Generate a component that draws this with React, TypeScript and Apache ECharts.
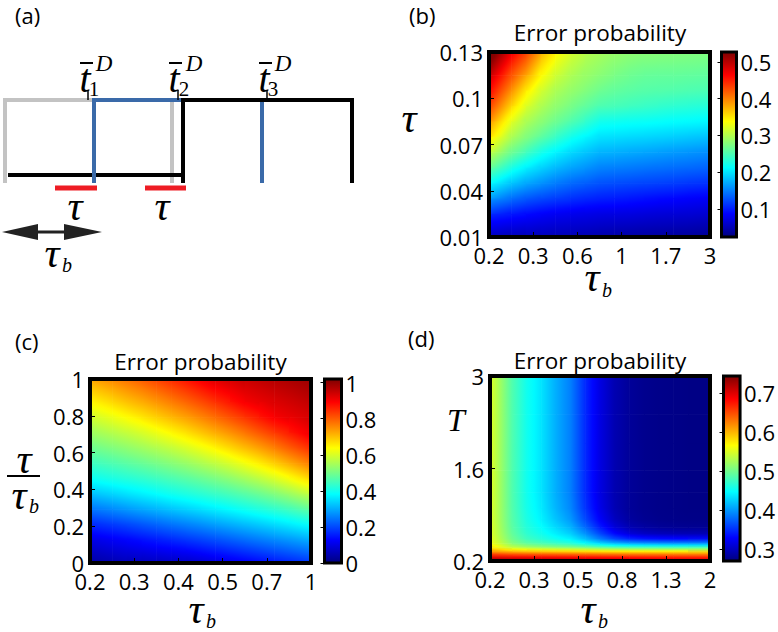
import React, { useEffect, useRef } from "react";
import * as echarts from "echarts";

const JET = ["#00007F", "#0000FF", "#007FFF", "#00FFFF", "#7FFF7F", "#FFFF00", "#FF7F00", "#FF0000", "#7F0000"];
const FONT = "Open Sans";
const SERIF = "Liberation Serif";
const TITLE = "Error probability";

// ---------- Panel (b): tau vs tau_b ----------
const bXTicks = ["0.2", "0.3", "0.6", "1", "1.7", "3"];
const bYTicks = ["0.01", "0.04", "0.07", "0.1", "0.13"];
const bColorTicks = [0.1, 0.2, 0.3, 0.4, 0.5];
const bRange = [0.024, 0.527];
// rows from top (tau = 0.13) to bottom (tau = 0.01), columns from tau_b = 0.2 to 3
const bValues = [
  [0.51, 0.455, 0.42, 0.368, 0.333, 0.313, 0.298, 0.29, 0.283, 0.278, 0.275, 0.274, 0.273, 0.272, 0.271],
  [0.47, 0.425, 0.385, 0.34, 0.315, 0.298, 0.288, 0.281, 0.273, 0.267, 0.263, 0.262, 0.262, 0.261, 0.26],
  [0.44, 0.395, 0.348, 0.318, 0.297, 0.287, 0.278, 0.267, 0.261, 0.258, 0.255, 0.254, 0.253, 0.251, 0.25],
  [0.41, 0.36, 0.322, 0.299, 0.285, 0.273, 0.261, 0.251, 0.248, 0.244, 0.241, 0.238, 0.235, 0.233, 0.231],
  [0.37, 0.325, 0.297, 0.283, 0.267, 0.254, 0.239, 0.222, 0.22, 0.218, 0.217, 0.215, 0.213, 0.212, 0.21],
  [0.335, 0.298, 0.278, 0.26, 0.242, 0.223, 0.21, 0.199, 0.197, 0.195, 0.193, 0.191, 0.189, 0.186, 0.184],
  [0.295, 0.268, 0.247, 0.224, 0.208, 0.195, 0.185, 0.176, 0.174, 0.171, 0.169, 0.166, 0.163, 0.161, 0.158],
  [0.253, 0.227, 0.206, 0.192, 0.179, 0.169, 0.161, 0.152, 0.15, 0.148, 0.145, 0.143, 0.141, 0.139, 0.137],
  [0.204, 0.185, 0.171, 0.16, 0.149, 0.14, 0.134, 0.128, 0.125, 0.123, 0.121, 0.119, 0.117, 0.114, 0.112],
  [0.157, 0.142, 0.13, 0.123, 0.117, 0.111, 0.106, 0.102, 0.1, 0.097, 0.094, 0.091, 0.089, 0.086, 0.084],
  [0.105, 0.098, 0.092, 0.086, 0.081, 0.079, 0.076, 0.074, 0.073, 0.072, 0.07, 0.068, 0.067, 0.066, 0.064],
  [0.069, 0.067, 0.065, 0.063, 0.061, 0.059, 0.058, 0.055, 0.053, 0.052, 0.05, 0.049, 0.048, 0.047, 0.045],
];

// ---------- Panel (c): tau/tau_b vs tau_b ----------
const cXTicks = ["0.2", "0.3", "0.4", "0.5", "0.7", "1"];
const cYTicks = ["0", "0.2", "0.4", "0.6", "0.8", "1"];
const cColorTicks = [0, 0.2, 0.4, 0.6, 0.8, 1];
const cRange = [0, 1.02];
const cValues = [
  [0.71, 0.729, 0.751, 0.773, 0.797, 0.822, 0.847, 0.874, 0.901, 0.916, 0.929, 0.942, 0.953, 0.964, 0.975],
  [0.654, 0.675, 0.699, 0.719, 0.742, 0.766, 0.791, 0.817, 0.844, 0.872, 0.901, 0.914, 0.927, 0.938, 0.95],
  [0.598, 0.617, 0.638, 0.66, 0.684, 0.708, 0.731, 0.757, 0.784, 0.812, 0.84, 0.87, 0.9, 0.913, 0.925],
  [0.547, 0.563, 0.579, 0.597, 0.619, 0.642, 0.666, 0.693, 0.719, 0.745, 0.775, 0.806, 0.835, 0.866, 0.898],
  [0.498, 0.511, 0.526, 0.542, 0.559, 0.577, 0.598, 0.621, 0.647, 0.675, 0.704, 0.732, 0.764, 0.799, 0.83],
  [0.448, 0.46, 0.473, 0.486, 0.501, 0.517, 0.534, 0.554, 0.575, 0.598, 0.625, 0.654, 0.685, 0.718, 0.752],
  [0.397, 0.408, 0.419, 0.43, 0.443, 0.457, 0.471, 0.487, 0.504, 0.524, 0.546, 0.57, 0.598, 0.629, 0.662],
  [0.327, 0.34, 0.354, 0.368, 0.382, 0.397, 0.41, 0.423, 0.438, 0.453, 0.47, 0.489, 0.511, 0.536, 0.565],
  [0.25, 0.265, 0.28, 0.294, 0.308, 0.323, 0.336, 0.351, 0.366, 0.381, 0.397, 0.413, 0.429, 0.448, 0.469],
  [0.173, 0.184, 0.197, 0.212, 0.227, 0.242, 0.256, 0.269, 0.286, 0.3, 0.315, 0.33, 0.346, 0.362, 0.379],
  [0.106, 0.117, 0.128, 0.14, 0.152, 0.165, 0.178, 0.191, 0.205, 0.22, 0.235, 0.25, 0.264, 0.278, 0.293],
  [0.061, 0.072, 0.08, 0.086, 0.093, 0.098, 0.105, 0.117, 0.13, 0.143, 0.156, 0.17, 0.185, 0.199, 0.213],
];

// ---------- Panel (d): T vs tau_b ----------
const dXTicks = ["0.2", "0.3", "0.5", "0.8", "1.3", "2"];
const dYTicks = ["0.2", "1.6", "3"];
const dColorTicks = [0.3, 0.4, 0.5, 0.6, 0.7];
const dRange = [0.27, 0.743];
// sampled T bands (row edges), from top to bottom
const dRowEdgesT = [3.0, 2.64, 2.2, 1.76, 1.39, 1.09, 0.9, 0.76, 0.66, 0.57, 0.5, 0.44, 0.38, 0.32, 0.26, 0.2];
const dValues = [
  [0.53, 0.485, 0.455, 0.435, 0.41, 0.388, 0.348, 0.316, 0.293, 0.282, 0.277, 0.275, 0.274, 0.273, 0.273],
  [0.53, 0.485, 0.455, 0.435, 0.41, 0.388, 0.348, 0.316, 0.293, 0.282, 0.277, 0.275, 0.274, 0.273, 0.273],
  [0.53, 0.485, 0.455, 0.435, 0.41, 0.388, 0.348, 0.316, 0.293, 0.282, 0.277, 0.275, 0.274, 0.273, 0.273],
  [0.53, 0.485, 0.455, 0.435, 0.41, 0.388, 0.348, 0.316, 0.293, 0.282, 0.277, 0.275, 0.274, 0.273, 0.273],
  [0.53, 0.485, 0.455, 0.435, 0.41, 0.388, 0.348, 0.316, 0.293, 0.282, 0.277, 0.275, 0.274, 0.273, 0.273],
  [0.53, 0.486, 0.457, 0.438, 0.413, 0.392, 0.353, 0.319, 0.294, 0.282, 0.277, 0.275, 0.274, 0.273, 0.273],
  [0.53, 0.488, 0.46, 0.442, 0.42, 0.4, 0.363, 0.327, 0.3, 0.285, 0.279, 0.276, 0.275, 0.274, 0.274],
  [0.532, 0.49, 0.464, 0.448, 0.43, 0.412, 0.378, 0.342, 0.312, 0.294, 0.286, 0.282, 0.28, 0.279, 0.279],
  [0.534, 0.494, 0.469, 0.455, 0.44, 0.425, 0.397, 0.362, 0.332, 0.312, 0.302, 0.298, 0.296, 0.295, 0.295],
  [0.537, 0.5, 0.477, 0.465, 0.453, 0.442, 0.417, 0.387, 0.362, 0.347, 0.339, 0.335, 0.333, 0.332, 0.332],
  [0.545, 0.51, 0.492, 0.482, 0.473, 0.465, 0.447, 0.427, 0.412, 0.402, 0.397, 0.394, 0.392, 0.392, 0.392],
  [0.562, 0.535, 0.523, 0.515, 0.509, 0.504, 0.497, 0.487, 0.48, 0.476, 0.474, 0.473, 0.472, 0.472, 0.472],
  [0.603, 0.592, 0.587, 0.584, 0.581, 0.579, 0.576, 0.573, 0.571, 0.569, 0.568, 0.567, 0.566, 0.566, 0.566],
  [0.662, 0.657, 0.654, 0.652, 0.65, 0.648, 0.646, 0.644, 0.642, 0.641, 0.64, 0.639, 0.638, 0.637, 0.637],
  [0.715, 0.712, 0.71, 0.708, 0.706, 0.704, 0.702, 0.7, 0.698, 0.696, 0.694, 0.692, 0.691, 0.69, 0.689],
];

// ---------- colour map (MATLAB jet) ----------
const JET_RGB = JET.map((h) => [1, 3, 5].map((k) => parseInt(h.slice(k, k + 2), 16)));
function jet(t: number) {
  const n = JET_RGB.length - 1;
  const tt = Math.max(0, Math.min(1, t)) * n;
  const k = Math.min(n - 1, Math.floor(tt));
  const f = tt - k;
  const a = JET_RGB[k];
  const b = JET_RGB[k + 1];
  const c = a.map((v, i) => Math.round(v + (b[i] - v) * f));
  return `rgb(${c[0]},${c[1]},${c[2]})`;
}

function uniformEdges(n: number, yMax: number) {
  return Array.from({ length: n + 1 }, (_, j) => yMax - (j * yMax) / n);
}

// Each sample sits at the centre of its grid cell; the shaded patches join
// neighbouring samples (MATLAB "shading interp" style rendering).
function patches(values: number[][], xMax: number, rowEdges: number[]) {
  const nR = values.length;
  const nC = values[0].length;
  const xc = (i: number) => ((i + 0.5) * xMax) / nC;
  const yc = (j: number) => (rowEdges[j] + rowEdges[j + 1]) / 2;
  const out: number[][] = [];
  for (let j = 0; j < nR - 1; j++) {
    for (let i = 0; i < nC - 1; i++) {
      const x0 = i === 0 ? 0 : xc(i);
      const x1 = i === nC - 2 ? xMax : xc(i + 1);
      const yTop = j === 0 ? rowEdges[0] : yc(j);
      const yBot = j === nR - 2 ? rowEdges[nR] : yc(j + 1);
      out.push([
        x0, yBot, x1, yTop,
        xc(i), yc(j + 1), xc(i + 1), yc(j),
        values[j + 1][i], values[j + 1][i + 1], values[j][i], values[j][i + 1],
      ]);
    }
  }
  return out;
}

const dY0 = Number(dYTicks[0]);
const dStep = Number(dYTicks[1]) - dY0;

const panels = [
  {
    grid: { left: 489, top: 52, width: 221, height: 185 },
    cbar: { left: 721.5, top: 52, width: 15, height: 185 },
    xTicks: bXTicks, yTicks: bYTicks, range: bRange, cTicks: bColorTicks,
    data: patches(bValues, bXTicks.length - 1, uniformEdges(bValues.length, bYTicks.length - 1)),
  },
  {
    grid: { left: 90, top: 379, width: 221, height: 184 },
    cbar: { left: 324.5, top: 379, width: 17, height: 184 },
    xTicks: cXTicks, yTicks: cYTicks, range: cRange, cTicks: cColorTicks,
    data: patches(cValues, cXTicks.length - 1, uniformEdges(cValues.length, cYTicks.length - 1)),
  },
  {
    grid: { left: 490, top: 376, width: 220, height: 185 },
    cbar: { left: 723.5, top: 376, width: 17, height: 185 },
    xTicks: dXTicks, yTicks: dYTicks, range: dRange, cTicks: dColorTicks,
    data: patches(dValues, dXTicks.length - 1, dRowEdgesT.map((t) => (t - dY0) / dStep)),
  },
];

function txt(text: string, x: number, y: number, o: any = {}) {
  return {
    type: "text",
    x,
    y,
    z: 100,
    style: {
      text,
      fill: o.fill || "#000",
      fontFamily: o.family || FONT,
      fontSize: o.size || 22,
      fontStyle: o.italic ? "italic" : "normal",
      align: o.align || "center",
      verticalAlign: "middle",
    },
  };
}

function seg(x1: number, y1: number, x2: number, y2: number, stroke: string, lineWidth: number) {
  return { type: "line", z: 50, shape: { x1, y1, x2, y2 }, style: { stroke, lineWidth } };
}

function poly(points: number[][], stroke: string, lineWidth: number) {
  return { type: "polyline", z: 50, shape: { points }, style: { stroke, lineWidth, fill: null, lineJoin: "miter" } };
}

function buildOption() {
  const grid: any[] = [];
  const xAxis: any[] = [];
  const yAxis: any[] = [];
  const series: any[] = [];

  panels.forEach((p) => {
    const gi = grid.length;
    grid.push({ ...p.grid, containLabel: false });
    grid.push({ ...p.cbar, containLabel: false });
    const xMax = p.xTicks.length - 1;
    const yMax = p.yTicks.length - 1;
    const [vmin, vmax] = p.range;
    const colorOf = (v: number) => jet((v - vmin) / (vmax - vmin));
    const labelStyle = { fontFamily: FONT, fontSize: 22, color: "#000" };
    xAxis.push({
      gridIndex: gi, type: "value", min: 0, max: xMax, interval: 1, z: 10,
      axisLine: { show: false }, splitLine: { show: false },
      axisTick: { show: true, inside: true, length: 5, lineStyle: { color: "#000", width: 1 } },
      axisLabel: { ...labelStyle, margin: 7, formatter: (v: number) => p.xTicks[Math.round(v)] ?? "" },
    });
    yAxis.push({
      gridIndex: gi, type: "value", min: 0, max: yMax, interval: 1, z: 10,
      axisLine: { show: false }, splitLine: { show: false },
      axisTick: { show: true, inside: true, length: 5, lineStyle: { color: "#000", width: 1 } },
      axisLabel: { ...labelStyle, margin: 6, formatter: (v: number) => p.yTicks[Math.round(v)] ?? "" },
    });
    xAxis.push({ gridIndex: gi + 1, type: "value", min: 0, max: 1, show: false });
    yAxis.push({
      gridIndex: gi + 1, type: "value", position: "right", min: vmin, max: vmax, z: 10,
      axisLine: { show: false }, splitLine: { show: false },
      axisTick: { show: true, inside: true, length: 4, customValues: p.cTicks, lineStyle: { color: "#000", width: 1 } },
      axisLabel: { ...labelStyle, margin: 4, customValues: p.cTicks, formatter: (v: number) => String(+Number(v).toFixed(2)) },
    });

    series.push({
      type: "custom", xAxisIndex: gi, yAxisIndex: gi, clip: true, z: 2, silent: true,
      encode: { x: [0, 2], y: [1, 3] },
      data: p.data,
      renderItem: (params: any, api: any) => {
        const r0 = api.coord([api.value(0), api.value(1)]);
        const r1 = api.coord([api.value(2), api.value(3)]);
        const n0 = api.coord([api.value(4), api.value(5)]);
        const n1 = api.coord([api.value(6), api.value(7)]);
        const vBL = api.value(8), vBR = api.value(9), vTL = api.value(10), vTR = api.value(11);
        const wpx = n1[0] - n0[0];
        const hpx = n0[1] - n1[1];
        const gx = ((vBR - vBL) + (vTR - vTL)) / 2 / wpx;
        const gy = -((vTL - vBL) + (vTR - vBR)) / 2 / hpx;
        const ncx = (n0[0] + n1[0]) / 2;
        const ncy = (n0[1] + n1[1]) / 2;
        const vc = (vBL + vBR + vTL + vTR) / 4;
        const x = r0[0];
        const y = r1[1];
        const w = r1[0] - r0[0];
        const h = r0[1] - r1[1];
        const cx = x + w / 2;
        const cy = y + h / 2;
        const vcr = vc + gx * (cx - ncx) + gy * (cy - ncy);
        const gm = Math.hypot(gx, gy);
        let fill: any = colorOf(vcr);
        if (gm > 1e-9) {
          const ux = gx / gm;
          const uy = gy / gm;
          const L = Math.hypot(w, h) / 2 + 1;
          const N = 8;
          const stops = [];
          for (let k = 0; k <= N; k++) {
            const s = -L + (2 * L * k) / N;
            stops.push({ offset: k / N, color: colorOf(vcr + gm * s) });
          }
          fill = new echarts.graphic.LinearGradient(cx - ux * L, cy - uy * L, cx + ux * L, cy + uy * L, stops, true);
        }
        return {
          type: "rect",
          shape: { x, y, width: w + 0.6, height: h + 0.6 },
          style: { fill },
        };
      },
    });
    series.push({
      type: "custom", xAxisIndex: gi, yAxisIndex: gi, clip: false, z: 5, silent: true,
      encode: { x: [0, 2], y: [1, 3] },
      data: [[0, 0, xMax, yMax]],
      renderItem: (params: any, api: any) => {
        const a = api.coord([api.value(0), api.value(1)]);
        const b = api.coord([api.value(2), api.value(3)]);
        return {
          type: "rect",
          shape: { x: a[0], y: b[1], width: b[0] - a[0], height: a[1] - b[1] },
          style: { fill: "transparent", stroke: "#000", lineWidth: 4 },
        };
      },
    });
    series.push({
      type: "custom", xAxisIndex: gi + 1, yAxisIndex: gi + 1, clip: false, z: 5, silent: true,
      encode: { x: [0, 2], y: [1, 3] },
      data: [[0, vmin, 1, vmax]],
      renderItem: (params: any, api: any) => {
        const a = api.coord([api.value(0), api.value(1)]);
        const b = api.coord([api.value(2), api.value(3)]);
        return {
          type: "rect",
          shape: { x: a[0], y: b[1], width: b[0] - a[0], height: a[1] - b[1] },
          style: {
            fill: new echarts.graphic.LinearGradient(0, 1, 0, 0, JET.map((c, k) => ({ offset: k / (JET.length - 1), color: c }))),
            stroke: "#000",
            lineWidth: 3,
          },
        };
      },
    });
  });

  const gray = "#c3c3c3";
  const blue = "#3a6aa9";
  const red = "#ee1c24";
  const G = 42; // greek letter size
  const graphic: any[] = [
    // panel labels & titles
    txt("(a)", 15, 15, { align: "left" }),
    txt("(b)", 409, 15, { align: "left" }),
    txt("(c)", 15, 341, { align: "left" }),
    txt("(d)", 408, 338, { align: "left" }),
    txt(TITLE, 600, 32, { size: 22.5 }),
    txt(TITLE, 200.5, 361, { size: 22.5 }),
    txt(TITLE, 600, 360, { size: 22.5 }),
    // axis names (b)
    txt("τ", 409, 118, { family: SERIF, italic: true, size: G }),
    txt("τ", 592, 277, { family: SERIF, italic: true, size: G }),
    txt("b", 607, 290, { family: SERIF, italic: true, size: 20 }),
    // axis names (c)
    txt("τ", 24, 459, { family: SERIF, italic: true, size: G }),
    seg(7, 476, 40, 476, "#000", 2),
    txt("τ", 19, 495, { family: SERIF, italic: true, size: G }),
    txt("b", 34, 506, { family: SERIF, italic: true, size: 20 }),
    txt("τ", 196, 609, { family: SERIF, italic: true, size: G }),
    txt("b", 211, 621, { family: SERIF, italic: true, size: 20 }),
    // axis names (d)
    txt("T", 456, 420, { family: SERIF, italic: true, size: 32 }),
    txt("τ", 588, 609, { family: SERIF, italic: true, size: G }),
    txt("b", 603, 621, { family: SERIF, italic: true, size: 20 }),

    // ---- panel (a) schematic ----
    poly([[5, 183], [5, 100], [172, 100], [172, 183]], gray, 4),
    seg(8, 175, 181, 175, "#000", 4),
    poly([[94, 183], [94, 100], [181, 100]], blue, 4),
    poly([[183, 183], [183, 100], [352, 100], [352, 183]], "#000", 4),
    seg(262, 102, 262, 183, blue, 4),
    seg(88, 90, 88, 100, "#000", 1.5),
    seg(178, 90, 178, 100, "#000", 1.5),
    seg(267, 90, 267, 100, "#000", 1.5),
    seg(55, 188, 97, 188, red, 5),
    seg(145, 188, 186, 188, red, 5),
    seg(30, 232, 72, 232, "#222", 3),
    { type: "polygon", z: 50, shape: { points: [[2, 232], [38, 224], [38, 240]] }, style: { fill: "#222" } },
    { type: "polygon", z: 50, shape: { points: [[102, 232], [64, 224], [64, 240]] }, style: { fill: "#222" } },
    txt("τ", 75, 206, { family: SERIF, italic: true, size: G }),
    txt("τ", 162, 206, { family: SERIF, italic: true, size: G }),
    txt("τ", 52, 253, { family: SERIF, italic: true, size: G }),
    txt("b", 67, 265, { family: SERIF, italic: true, size: 20 }),
    // t-bar labels
    txt("t", 85, 78, { family: SERIF, italic: true, size: 40 }),
    seg(80, 63, 93, 63, "#000", 2),
    txt("1", 94, 89, { family: SERIF, size: 21 }),
    txt("D", 104, 63, { family: SERIF, italic: true, size: 23 }),
    txt("t", 174, 78, { family: SERIF, italic: true, size: 40 }),
    seg(169, 63, 182, 63, "#000", 2),
    txt("2", 184, 89, { family: SERIF, size: 21 }),
    txt("D", 194, 63, { family: SERIF, italic: true, size: 23 }),
    txt("t", 264, 78, { family: SERIF, italic: true, size: 40 }),
    seg(259, 63, 272, 63, "#000", 2),
    txt("3", 273, 89, { family: SERIF, size: 21 }),
    txt("D", 283, 63, { family: SERIF, italic: true, size: 23 }),
  ];

  return {
    animation: false,
    backgroundColor: "#fff",
    grid,
    xAxis,
    yAxis,
    series,
    graphic,
  };
}

export default function App() {
  const ref = useRef<HTMLDivElement>(null);
  useEffect(() => {
    const chart = echarts.init(ref.current!, null, { renderer: "svg" });
    chart.setOption(buildOption() as any);
    return () => chart.dispose();
  }, []);
  return (
    <div
      ref={ref}
      style={{ position: "fixed", left: 0, top: 0, width: 778, height: 632, background: "#fff" }}
    />
  );
}
